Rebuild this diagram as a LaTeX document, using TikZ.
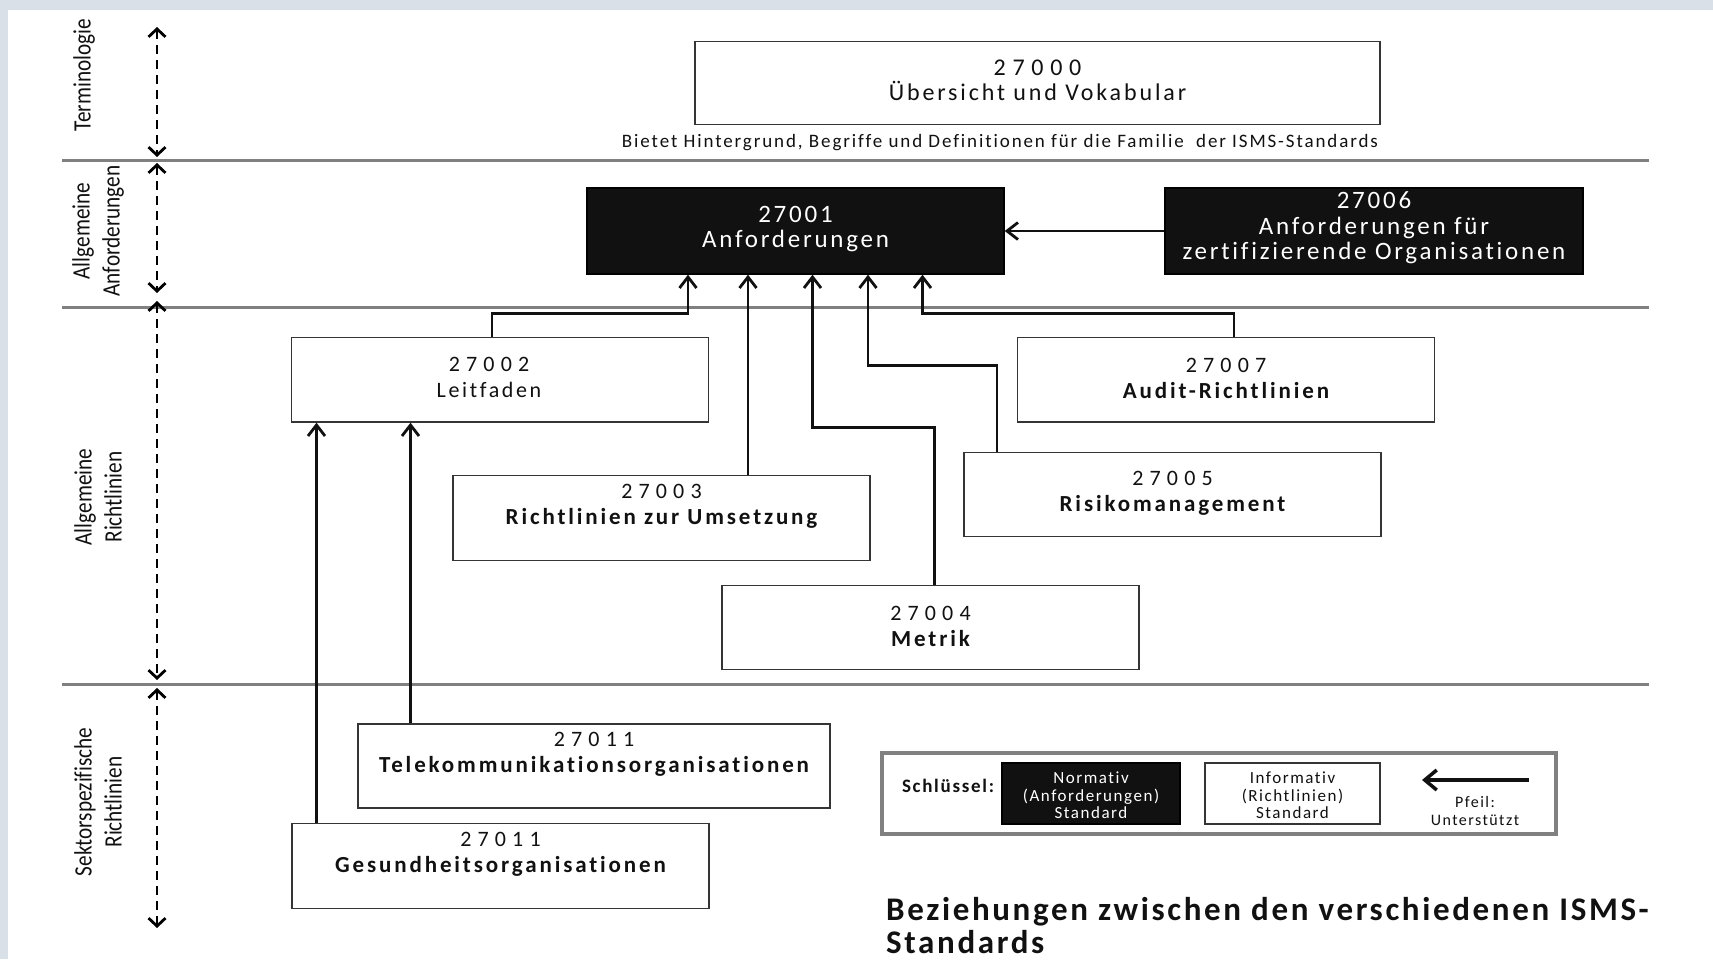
\documentclass[tikz,border=0pt]{standalone}
\usepackage{fontspec}
\setmainfont{Carlito}[Ligatures={NoCommon,NoContextual}]
\newfontfamily\txtf{Carlito}[LetterSpace=12,Ligatures={NoCommon,NoContextual}]
\newfontfamily\whitef{Carlito}[LetterSpace=11,Ligatures={NoCommon,NoContextual}]
\newfontfamily\boldf{Carlito}[LetterSpace=12.5,Ligatures={NoCommon,NoContextual}]
\newfontfamily\numf{Carlito}[LetterSpace=28]
\newfontfamily\sidef{Carlito}[FakeStretch=0.85,Ligatures={NoCommon,NoContextual}]
\newfontfamily\smallf{Carlito}[LetterSpace=10,Ligatures={NoCommon,NoContextual}]
\newfontfamily\keyf{Carlito}[LetterSpace=9,Ligatures={NoCommon,NoContextual}]
\newfontfamily\titlef{Carlito}[LetterSpace=8,Ligatures={NoCommon,NoContextual}]
\usetikzlibrary{arrows.meta}
\definecolor{frame}{RGB}{217,224,231}
\definecolor{rule}{RGB}{128,128,128}
\definecolor{ink}{RGB}{17,17,17}

\begin{document}
\begin{tikzpicture}[x=1pt,y=-1pt,
  sep/.style={draw=rule,line width=3pt},
  axis/.style={line width=2.8pt,dash pattern=on 9pt off 6pt,
    {Straight Barb[length=8pt,width=17pt]}-{Straight Barb[length=8pt,width=17pt]}},
  link/.style={draw=ink,line width=2.8pt,-{Straight Barb[length=11pt,width=17pt]}},
  wbox/.style={draw=ink!85,line width=1.4pt,fill=white,inner sep=0pt},
  kbox/.style={draw=black,fill=ink,line width=1.4pt,inner sep=0pt},
  std/.style={minimum width=417pt,minimum height=84.5pt},
  txt/.style={align=center,text=ink,inner sep=0pt,font=\fontsize{22}{26}\selectfont},
  wtxt/.style={align=center,text=white,inner sep=0pt,font=\whitef\fontsize{25}{25.5}\selectfont},
  side/.style={rotate=90,align=center,text=ink,inner sep=0pt,font=\sidef\fontsize{25}{30}\selectfont}
]
% page and frame
\useasboundingbox (0,0) rectangle (1713,959);
\fill[white] (0,0) rectangle (1713,959);
\fill[frame] (0,0) rectangle (1713,10);
\fill[frame] (0,0) rectangle (8,959);

% level separators
\draw[sep] (62,160) -- (1649,160);
\draw[sep] (62,307) -- (1649,307);
\draw[sep] (62,684) -- (1649,684);

% level axis
\coordinate (a0) at (157,27);
\coordinate (a1) at (157,157);
\coordinate (a2) at (157,163);
\coordinate (a3) at (157,293);
\coordinate (a4) at (157,301);
\coordinate (a5) at (157,680);
\coordinate (a6) at (157,688);
\coordinate (a7) at (157,928);
\draw[axis] (a0) -- (a1);
\draw[axis] (a2) -- (a3);
\draw[axis] (a4) -- (a5);
\draw[axis] (a6) -- (a7);

% level names
\node[side] (l0) at (84,75) {Terminologie};
\node[side] (l1) at (98,231) {Allgemeine\\Anforderungen};
\node[side] (l2) at (98,497) {Allgemeine\\Richtlinien};
\node[side] (l3) at (98,802) {Sektorspezifische\\Richtlinien};

% terminology
\node[wbox,minimum width=685pt,minimum height=83pt] (b0) at (1037.5,83) {};
\node[txt,font=\fontsize{24}{25}\selectfont] (t0) at ([yshift=2.5pt]b0.center)
  {{\numf 27000}\\{\txtf Übersicht und Vokabular}};
\node[txt,font=\smallf\fontsize{19}{20}\selectfont] (cap) at (1000,143)
  {Bietet Hintergrund, Begriffe und Definitionen für die Familie\ \ der ISMS-Standards};

% normative standards
\node[kbox,minimum width=417pt,minimum height=86pt] (b1) at (795.5,231) {};
\node[wtxt] (t1) at ([yshift=2pt]b1.center) {27001\\Anforderungen};
\node[kbox,minimum width=418pt,minimum height=86pt] (b6) at (1374,231) {};
\node[wtxt] (t6) at ([yshift=3pt]b6.center) {27006\\Anforderungen für\\zertifizierende Organisationen};

% guideline standards
\node[wbox,std] (b2) at (500,379.75) {};
\node[txt] (t2) at ([xshift=-11pt,yshift=2pt]b2.center) {{\numf 27002}\\{\txtf Leitfaden}};
\node[wbox,std] (b7) at (1226,379.75) {};
\node[txt] (t7) at ([yshift=1pt]b7.center) {{\numf 27007}\\{\boldf\bfseries\fontsize{23}{26}\selectfont Audit-Richtlinien}};
\node[wbox,std] (b3) at (661.5,518) {};
\node[txt] (t3) at ([yshift=12pt]b3.center) {{\numf 27003}\\{\boldf\bfseries\fontsize{23}{26}\selectfont Richtlinien zur Umsetzung}};
\node[wbox,std] (b5) at (1172.5,494.5) {};
\node[txt] (t5) at ([yshift=1.5pt]b5.center) {{\numf 27005}\\{\boldf\bfseries\fontsize{23}{26}\selectfont Risikomanagement}};
\node[wbox,std] (b4) at (930.5,627.5) {};
\node[txt] (t4) at ([yshift=1.5pt]b4.center) {{\numf 27004}\\{\boldf\bfseries\fontsize{23}{26}\selectfont Metrik}};

% sector specific standards
\node[wbox,minimum width=472pt,minimum height=84pt] (bt) at (594,766) {};
\node[txt] (tt) at ([yshift=12pt]bt.center) {{\numf 27011}\\{\boldf\bfseries\fontsize{23}{26}\selectfont Telekommunikationsorganisationen}};
\node[wbox,std] (bg) at (500.5,866) {};
\node[txt] (tg) at ([yshift=12pt]bg.center) {{\numf 27011}\\{\boldf\bfseries\fontsize{23}{26}\selectfont Gesundheitsorganisationen}};

% support relations
\draw[link] (b6.west) -- (b1.east);
\draw[link] ([xshift=-8pt]b2.north) -- ++(0,-23) -| ([xshift=-107.5pt]b1.south);
\draw[link] ([xshift=86.5pt]b3.north) -- ([xshift=86.5pt]b3.north |- b1.south);
\draw[link] ([xshift=4pt]b4.north) -- ++(0,-157) -| ([xshift=17pt]b1.south);
\draw[link] ([xshift=-175.5pt]b5.north) -- ++(0,-86) -| ([xshift=72.5pt]b1.south);
\draw[link] ([xshift=8pt]b7.north) -- ++(0,-23) -| ([xshift=127pt]b1.south);
\draw[link] ([xshift=-184pt]bg.north) -- ([xshift=-184pt]bg.north |- b2.south);
\draw[link] ([xshift=-183.5pt]bt.north) -- ([xshift=-183.5pt]bt.north |- b2.south);

% key
\node[draw=rule,line width=4pt,fill=white,minimum width=674pt,minimum height=81pt,inner sep=0pt] (key) at (1219,793.25) {};
\node[txt,font=\keyf\bfseries\fontsize{19}{20}\selectfont] (kl) at (948,786) {Schlüssel:};
\node[kbox,minimum width=178pt,minimum height=61pt] (kn) at (1091,793.5) {};
\node[txt,text=white,font=\keyf\fontsize{17}{17.5}\selectfont] (kt) at ([yshift=-2pt]kn.center) {Normativ\\(Anforderungen)\\Standard};
\node[wbox,minimum width=175pt,minimum height=61pt] (ki) at (1292.5,793.5) {};
\node[txt,font=\keyf\fontsize{17}{17.5}\selectfont] (kit) at ([yshift=-2pt]ki.center) {Informativ\\(Richtlinien)\\Standard};
\coordinate (ka) at (1529,780);
\coordinate (kb) at (1422,780);
\draw[draw=ink,line width=3.5pt,-{Straight Barb[length=12pt,width=20pt]}] (ka) -- (kb);
\node[txt,font=\keyf\fontsize{16}{18}\selectfont] (kp) at (1475,811) {Pfeil:\\Unterstützt};

% title
\node[txt,anchor=west,align=left,font=\titlef\bfseries\fontsize{33}{33}\selectfont] (title) at (886,926)
  {Beziehungen zwischen\ den verschiedenen ISMS-\\Standards};
\end{tikzpicture}
\end{document}
